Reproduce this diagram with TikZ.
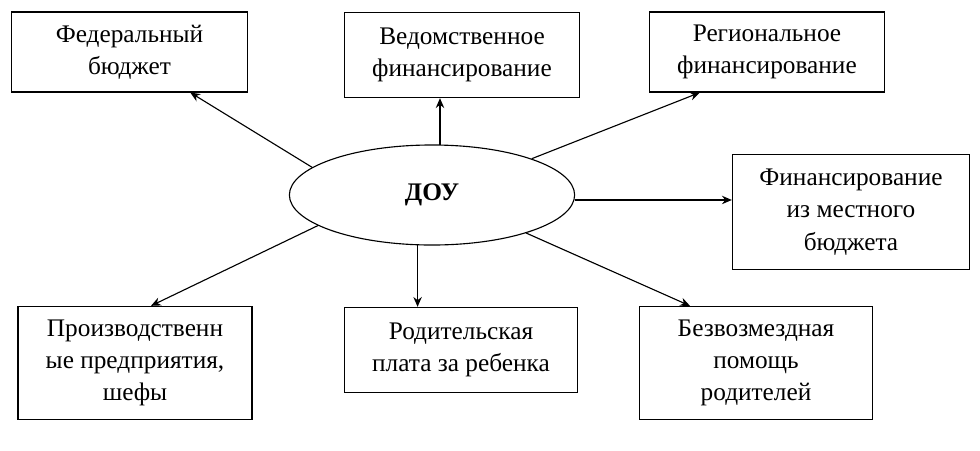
\documentclass[tikz,border=0pt]{standalone}
\usepackage{fontspec}
\setmainfont{Liberation Serif}
\usetikzlibrary{arrows.meta,shapes.geometric}
\tikzset{
  srcbox/.style={draw, thick, align=center, inner sep=0pt},
  link/.style={-{Stealth[length=7pt,width=6pt]}, thick}
}
\begin{document}
\begin{tikzpicture}[x=0.025cm,y=-0.025cm,font=\fontsize{18}{23}\selectfont]
  \useasboundingbox (0,0) rectangle (980,450);
  \node[draw, thick, ellipse, minimum width=7.13cm, minimum height=2.5cm] (doy) at (432,195) {\textbf{ДОУ}};
  \node[srcbox, minimum width=5.88cm, minimum height=2cm] (fed) at (129.5,52) {Федеральный\\бюджет};
  \node[srcbox, minimum width=5.88cm, minimum height=2.13cm] (ved) at (462,55) {Ведомственное\\финансирование};
  \node[srcbox, minimum width=5.88cm, minimum height=2cm] (reg) at (767,52) {Региональное\\финансирование};
  \node[srcbox, minimum width=5.93cm, minimum height=2.88cm] (mest) at (851,212) {Финансирование\\из местного\\бюджета};
  \node[srcbox, minimum width=5.85cm, minimum height=2.83cm] (proizv) at (135,363) {Производственн\\ые предприятия,\\шефы};
  \node[srcbox, minimum width=5.83cm, minimum height=2.13cm] (rod) at (461,350) {Родительская\\плата за ребенка};
  \node[srcbox, minimum width=5.83cm, minimum height=2.83cm] (bez) at (756,363) {Безвозмездная\\помощь\\родителей};
  \draw[link] (doy.167) -- ([xshift=1.52cm]fed.south);
  \draw[link] (doy.81) -- (doy.81 |- ved.south);
  \draw[link] (doy.20) -- ([xshift=-1.68cm]reg.south);
  \draw[link] (doy.358) -- (doy.358 -| mest.west);
  \draw[link] (doy.195) -- ([xshift=0.4cm]proizv.north);
  \draw[link] (doy.254) -- (doy.254 |- rod.north);
  \draw[link] (doy.338) -- ([xshift=-4.58cm]bez.north -| bez.east);
\end{tikzpicture}
\end{document}
